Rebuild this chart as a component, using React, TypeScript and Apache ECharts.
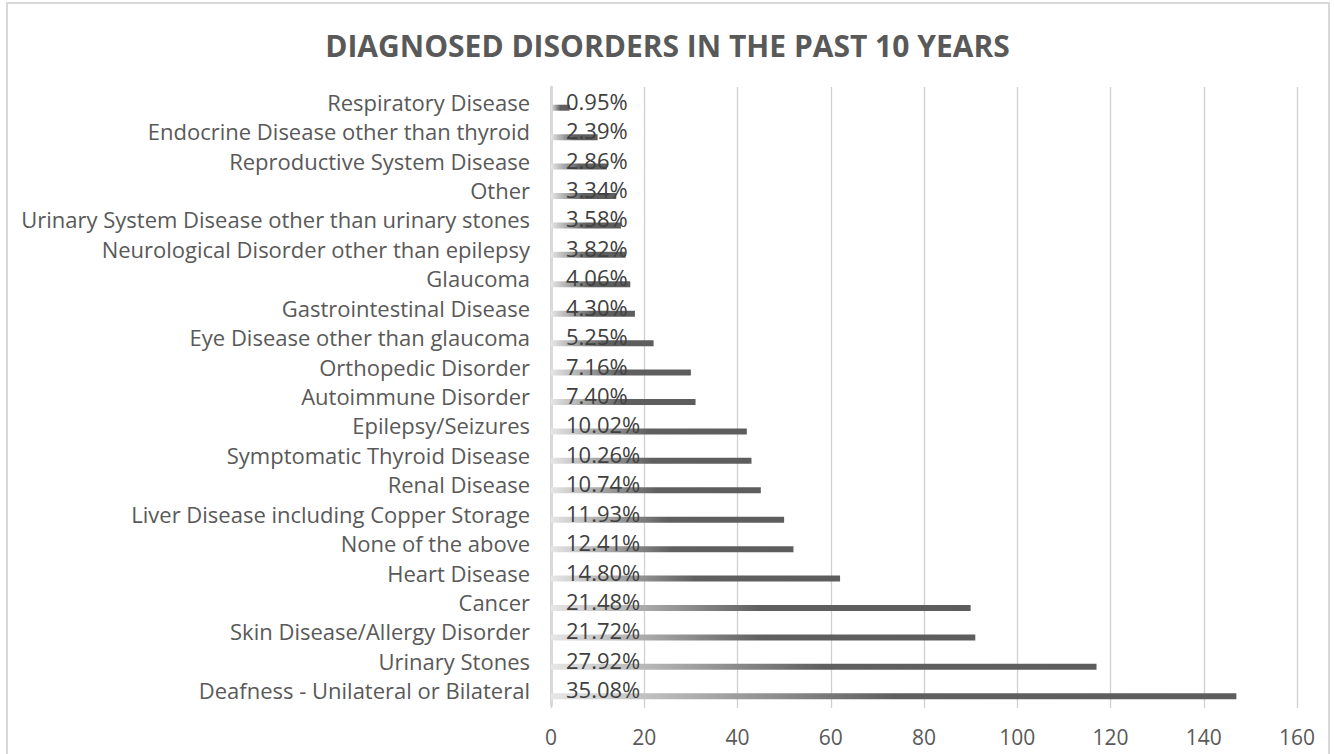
import React, { useEffect, useRef } from "react";
import * as echarts from "echarts";

const categories = [
  "Deafness - Unilateral or Bilateral",
  "Urinary Stones",
  "Skin Disease/Allergy Disorder",
  "Cancer",
  "Heart Disease",
  "None of the above",
  "Liver Disease including Copper Storage",
  "Renal Disease",
  "Symptomatic Thyroid Disease",
  "Epilepsy/Seizures",
  "Autoimmune Disorder",
  "Orthopedic Disorder",
  "Eye Disease other than glaucoma",
  "Gastrointestinal Disease",
  "Glaucoma",
  "Neurological Disorder other than epilepsy",
  "Urinary System Disease other than urinary stones",
  "Other",
  "Reproductive System Disease",
  "Endocrine Disease other than thyroid",
  "Respiratory Disease",
];

const counts = [147, 117, 91, 90, 62, 52, 50, 45, 43, 42, 31, 30, 22, 18, 17, 16, 15, 14, 12, 10, 4];

const percentLabels = [
  "35.08%", "27.92%", "21.72%", "21.48%", "14.80%", "12.41%", "11.93%", "10.74%",
  "10.26%", "10.02%", "7.40%", "7.16%", "5.25%", "4.30%", "4.06%", "3.82%",
  "3.58%", "3.34%", "2.86%", "2.39%", "0.95%",
];

const xTicks = { min: 0, max: 160, interval: 20 };

const FONT = "Open Sans";

export default function App() {
  const ref = useRef<HTMLDivElement>(null);
  useEffect(() => {
    if (!ref.current) return;
    const chart = echarts.init(ref.current, null, { renderer: "svg" });
    chart.setOption({
      animation: false,
      backgroundColor: "#ffffff",
      textStyle: { fontFamily: FONT },
      title: {
        text: "DIAGNOSED DISORDERS IN THE PAST 10 YEARS",
        left: "center",
        top: 25,
        textStyle: { fontFamily: FONT, fontSize: 30, fontWeight: "bold", color: "#595959" },
      },
      graphic: [
        {
          type: "rect",
          shape: { x: 7, y: 3, width: 1322, height: 770 },
          style: { fill: "none", stroke: "#d9d9d9", lineWidth: 2 },
          silent: true,
        },
      ],
      grid: { left: 551, right: 38, top: 87, bottom: 49, containLabel: false },
      xAxis: {
        type: "value",
        min: xTicks.min,
        max: xTicks.max,
        interval: xTicks.interval,
        axisLine: { show: false },
        axisTick: { show: true, length: 3, lineStyle: { color: "#d0d0d0", width: 1.3 } },
        splitLine: { show: true, lineStyle: { color: "#d0d0d0", width: 1.3 } },
        axisLabel: { color: "#595959", fontSize: 21, fontFamily: FONT, margin: 21 },
      },
      yAxis: {
        type: "category",
        data: categories,
        axisLine: { show: true, lineStyle: { color: "#d9d9d9", width: 3 } },
        axisTick: { show: false },
        axisLabel: { color: "#595959", fontSize: 22, fontFamily: FONT, margin: 21 },
      },
      series: [
        {
          name: "Percent",
          type: "bar",
          data: counts.map(() => 0),
          barWidth: 6,
          barGap: "100%",
          itemStyle: { color: "transparent" },
          label: {
            show: true,
            position: "right",
            distance: 15,
            offset: [0, 5],
            color: "#404040",
            fontSize: 22,
            fontFamily: FONT,
            formatter: (p: any) => percentLabels[p.dataIndex],
          },
        },
        {
          name: "Count",
          type: "bar",
          data: counts,
          barWidth: 6,
          barGap: "100%",
          itemStyle: {
            color: new echarts.graphic.LinearGradient(0, 0, 1, 0, [
              { offset: 0, color: "#e6e6e6" },
              { offset: 0.5, color: "#5f5f5f" },
              { offset: 1, color: "#5d5d5d" },
            ]),
          },
        },
      ],
    });
    return () => chart.dispose();
  }, []);
  return (
    <div
      ref={ref}
      style={{ position: "absolute", left: 0, top: 0, width: 1335, height: 754 }}
    />
  );
}
